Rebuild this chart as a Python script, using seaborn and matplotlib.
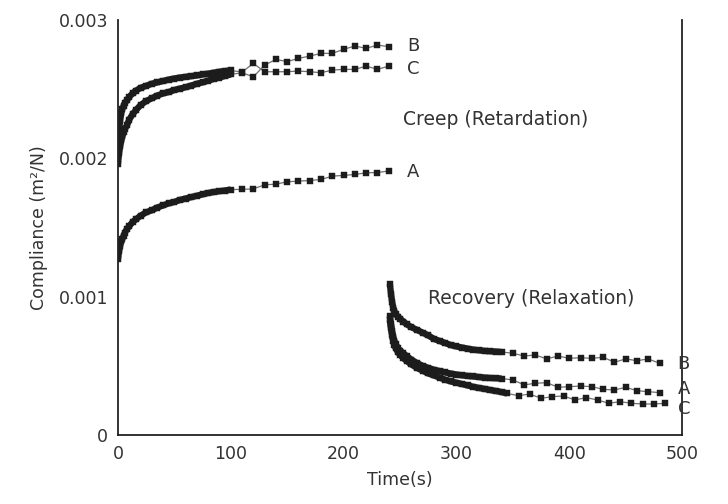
import matplotlib
matplotlib.use("Agg")
import matplotlib.pyplot as plt
import numpy as np
import pandas as pd
import seaborn as sns

# ---------------- data (compliance in units of 1e-3 m^2/N) ----------------
creep_dense_t = [0, 1, 2, 3, 4, 5, 6, 8, 10, 13, 16, 20, 25, 30, 35, 40, 45, 50,
                 55, 60, 65, 70, 75, 80, 85, 90, 95, 100]
creep_sparse_t = [110, 120, 130, 140, 150, 160, 170, 180, 190, 200, 210, 220, 230, 240]

creep_A_dense = [1.27, 1.33, 1.37, 1.40, 1.42, 1.44, 1.46, 1.49, 1.51, 1.54, 1.56,
                 1.585, 1.61, 1.625, 1.645, 1.66, 1.675, 1.685, 1.70, 1.71, 1.72,
                 1.73, 1.74, 1.75, 1.757, 1.763, 1.768, 1.775]
creep_A_sparse = [1.776, 1.78, 1.809, 1.814, 1.831, 1.836, 1.84, 1.848, 1.872,
                  1.877, 1.884, 1.896, 1.898, 1.909]

creep_B_dense = [1.96, 2.04, 2.09, 2.13, 2.16, 2.19, 2.21, 2.24, 2.28, 2.32, 2.35,
                 2.385, 2.415, 2.435, 2.455, 2.47, 2.48, 2.495, 2.505, 2.515, 2.527,
                 2.54, 2.55, 2.563, 2.575, 2.585, 2.597, 2.607]
creep_B_sparse = [2.62, 2.59, 2.675, 2.716, 2.70, 2.724, 2.74, 2.76, 2.76, 2.789,
                  2.813, 2.796, 2.82, 2.808]

creep_C_dense = [2.10, 2.20, 2.28, 2.33, 2.36, 2.38, 2.40, 2.42, 2.445, 2.47, 2.49,
                 2.51, 2.525, 2.54, 2.55, 2.56, 2.57, 2.578, 2.585, 2.59, 2.595,
                 2.60, 2.607, 2.613, 2.62, 2.627, 2.632, 2.636]
creep_C_sparse = [2.625, 2.687, 2.627, 2.627, 2.627, 2.632, 2.627, 2.62, 2.639,
                  2.644, 2.644, 2.668, 2.644, 2.668]

rec_dense_t = [241, 242, 243, 244, 245, 246, 248, 250, 253, 256, 260, 265, 270,
               275, 280, 285, 290, 295, 300, 305, 310, 315, 320, 325, 330, 335, 340]
rec_sparse_t = [350, 360, 370, 380, 390, 400, 410, 420, 430, 440, 450, 460, 470, 480]
rec_C_dense_t = rec_dense_t + [345]
rec_C_sparse_t = [355, 365, 375, 385, 395, 405, 415, 425, 435, 445, 455, 465, 475, 485]

rec_A_dense = [0.86, 0.80, 0.75, 0.71, 0.68, 0.66, 0.63, 0.61, 0.59, 0.57, 0.545,
               0.52, 0.50, 0.485, 0.472, 0.462, 0.452, 0.444, 0.437, 0.431, 0.427,
               0.423, 0.419, 0.415, 0.412, 0.41, 0.408]
rec_A_sparse = [0.398, 0.362, 0.374, 0.378, 0.345, 0.349, 0.354, 0.349, 0.33,
                0.325, 0.345, 0.32, 0.313, 0.306]

rec_B_dense = [1.09, 1.02, 0.96, 0.92, 0.895, 0.875, 0.855, 0.84, 0.82, 0.80, 0.78,
               0.76, 0.74, 0.72, 0.695, 0.68, 0.665, 0.65, 0.64, 0.632, 0.624,
               0.617, 0.612, 0.608, 0.605, 0.603, 0.60]
rec_B_sparse = [0.591, 0.571, 0.578, 0.55, 0.571, 0.554, 0.559, 0.554, 0.562,
                0.526, 0.55, 0.537, 0.55, 0.518]

rec_C_dense = [0.83, 0.77, 0.72, 0.68, 0.65, 0.63, 0.60, 0.58, 0.555, 0.535, 0.51,
               0.485, 0.465, 0.445, 0.43, 0.415, 0.40, 0.387, 0.378, 0.368, 0.358,
               0.348, 0.34, 0.333, 0.325, 0.318, 0.31, 0.30]
rec_C_sparse = [0.284, 0.296, 0.265, 0.277, 0.282, 0.253, 0.27, 0.253, 0.229,
                0.241, 0.229, 0.224, 0.224, 0.229]

y_ticks = [0, 0.001, 0.002, 0.003]
y_tick_labels = ["0", "0.001", "0.002", "0.003"]
x_ticks = [0, 100, 200, 300, 400, 500]

UNIT = 1e-3

# ---------------- build tidy frame ----------------
curves = [
    ("creep", "A", creep_dense_t, creep_A_dense, creep_sparse_t, creep_A_sparse),
    ("creep", "B", creep_dense_t, creep_B_dense, creep_sparse_t, creep_B_sparse),
    ("creep", "C", creep_dense_t, creep_C_dense, creep_sparse_t, creep_C_sparse),
    ("recovery", "A", rec_dense_t, rec_A_dense, rec_sparse_t, rec_A_sparse),
    ("recovery", "B", rec_dense_t, rec_B_dense, rec_sparse_t, rec_B_sparse),
    ("recovery", "C", rec_C_dense_t, rec_C_dense, rec_C_sparse_t, rec_C_sparse),
]
rows = []
for phase, sample, td, vd, ts, vs in curves:
    for t, v in zip(td, vd):
        rows.append((phase, sample, "dense", t, v * UNIT))
    for t, v in zip(ts, vs):
        rows.append((phase, sample, "sparse", t, v * UNIT))
df = pd.DataFrame(rows, columns=["phase", "sample", "part", "time", "compliance"])

# ---------------- plot ----------------
sns.set_theme(style="white")
plt.rcParams["font.family"] = ["DejaVu Sans"]

fig = plt.figure(figsize=(7.28, 5.04), dpi=100)
ax = fig.add_axes([0.162, 0.137, 0.775, 0.823])

for (phase, sample), g in df.groupby(["phase", "sample"], sort=False):
    g = g.sort_values("time")
    sns.lineplot(data=g, x="time", y="compliance", ax=ax, sort=False,
                 estimator=None, color="#707070", linewidth=0.9,
                 marker="s", markersize=4.2, markerfacecolor="#1c1c1c",
                 markeredgecolor="#1c1c1c", markeredgewidth=0.3)
    gd = g[g["part"] == "dense"]
    sns.lineplot(data=gd, x="time", y="compliance", ax=ax, sort=False,
                 estimator=None, color="#1c1c1c", linewidth=4.6,
                 solid_capstyle="butt")

ax.set_xlim(0, 500)
ax.set_ylim(0, 0.003)
ax.set_xticks(x_ticks)
ax.set_xticklabels([str(v) for v in x_ticks])
ax.set_yticks(y_ticks)
ax.set_yticklabels(y_tick_labels)

for s in ["left", "bottom", "right"]:
    ax.spines[s].set_visible(True)
    ax.spines[s].set_color("#222222")
    ax.spines[s].set_linewidth(1.3)
ax.spines["top"].set_visible(False)

ax.tick_params(axis="x", direction="in", length=4, width=1.0, colors="#222222",
               labelsize=12.5, labelcolor="#333333", pad=7)
ax.tick_params(axis="y", direction="out", length=4, width=1.0, colors="#222222",
               labelsize=12.5, labelcolor="#333333", pad=3)
ax.tick_params(axis="y", which="both", right=False)

ax.set_xlabel("Time(s)", fontsize=12.5, color="#333333", labelpad=6)
ax.set_ylabel("Compliance (m\u00b2/N)", fontsize=12.5, color="#333333", labelpad=8)

txt = dict(fontsize=13.5, color="#333333", ha="left", va="center")
ax.text(253, 0.00228, "Creep (Retardation)", **txt)
ax.text(275, 0.00099, "Recovery (Relaxation)", **txt)
lab = dict(fontsize=13, color="#333333", ha="left", va="center")
ax.text(256, 0.00281, "B", **lab)
ax.text(256, 0.00265, "C", **lab)
ax.text(256, 0.00190, "A", **lab)
ax.text(496, 0.00051, "B", **lab)
ax.text(496, 0.00033, "A", **lab)
ax.text(496, 0.00019, "C", **lab)

fig.savefig("out.png", dpi=100)
